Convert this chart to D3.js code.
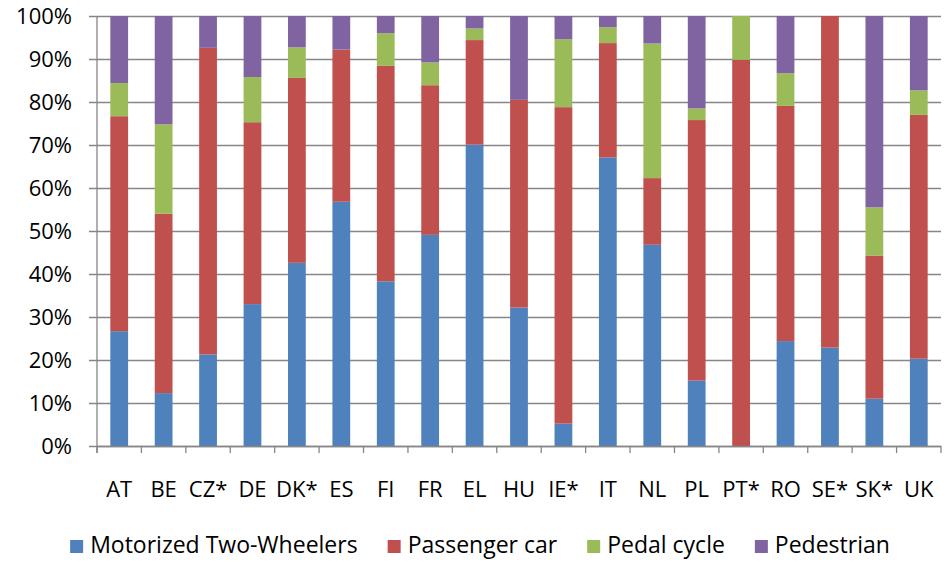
<!DOCTYPE html>
<html>
<head>
<meta charset="utf-8">
<script src="https://cdn.jsdelivr.net/npm/d3@7"></script>
<style>
  body { margin: 0; background: #fff; }
  svg text { font-family: "Open Sans", "Liberation Sans", sans-serif; fill: #000; }
</style>
</head>
<body>
<svg id="chart" width="946" height="561"></svg>
<script>
const categories = ["AT", "BE", "CZ*", "DE", "DK*", "ES", "FI", "FR", "EL", "HU", "IE*", "IT", "NL", "PL", "PT*", "RO", "SE*", "SK*", "UK"];
const motorized    = [26.7, 12.3, 21.3, 33.0, 42.6, 56.8, 38.3, 49.1, 70.1, 32.2,  5.2, 67.1, 46.8, 15.2,  0.0, 24.4, 22.9, 11.0, 20.3];
const passengerCar = [50.0, 41.7, 71.3, 42.3, 43.0, 35.4, 50.1, 34.8, 24.3, 48.3, 73.6, 26.6, 15.5, 60.6, 89.8, 54.7, 77.1, 33.3, 56.7];
const pedalCycle   = [ 7.7, 20.8,  0.0, 10.5,  7.1,  0.0,  7.6,  5.3,  2.7,  0.0, 15.8,  3.7, 31.3,  2.7, 10.2,  7.6,  0.0, 11.2,  5.7];
const pedestrian   = [15.6, 25.2,  7.4, 14.2,  7.3,  7.8,  4.0, 10.8,  2.9, 19.5,  5.4,  2.6,  6.4, 21.5,  0.0, 13.3,  0.0, 44.5, 17.3];
const seriesNames = ["Motorized Two-Wheelers", "Passenger car", "Pedal cycle", "Pedestrian"];
const yTicks = [0, 0.1, 0.2, 0.3, 0.4, 0.5, 0.6, 0.7, 0.8, 0.9, 1];

const colors = ["#4f81bd", "#c0504d", "#9bbb59", "#8064a2"];

const svg = d3.select("#chart");
const plot = { left: 97, right: 941, top: 16, bottom: 446 };
const fontSize = 22;

const rows = categories.map((c, i) => ({
  cat: c,
  [seriesNames[0]]: motorized[i],
  [seriesNames[1]]: passengerCar[i],
  [seriesNames[2]]: pedalCycle[i],
  [seriesNames[3]]: pedestrian[i]
}));

const stacked = d3.stack()
  .keys(seriesNames)
  .offset(d3.stackOffsetExpand)(rows);

const x = d3.scaleBand()
  .domain(categories)
  .range([plot.left, plot.right])
  .paddingInner(0.6)
  .paddingOuter(0.3);

const y = d3.scaleLinear()
  .domain([0, 1])
  .range([plot.bottom, plot.top]);

// gridlines + y labels
const yAxis = svg.append("g")
  .attr("transform", `translate(${plot.left - 8},0)`)
  .call(d3.axisLeft(y)
    .tickValues(yTicks)
    .tickFormat(d3.format(".0%"))
    .tickSize(-(plot.right - plot.left + 8))
    .tickPadding(17));
yAxis.select(".domain").remove();
yAxis.selectAll(".tick line").attr("stroke", "#868686").attr("stroke-width", 1.3);
yAxis.selectAll(".tick text").attr("font-size", fontSize);

// bars
svg.append("g")
  .selectAll("g")
  .data(stacked)
  .join("g")
  .attr("fill", (d, i) => colors[i])
  .selectAll("rect")
  .data(d => d)
  .join("rect")
  .attr("x", d => x(d.data.cat))
  .attr("width", x.bandwidth())
  .attr("y", d => y(d[1]))
  .attr("height", d => y(d[0]) - y(d[1]));

// y axis line
svg.append("line")
  .attr("x1", plot.left).attr("x2", plot.left)
  .attr("y1", plot.top).attr("y2", plot.bottom + 7)
  .attr("stroke", "#868686").attr("stroke-width", 1.3);

// x axis: ticks at category boundaries
const gap = (x.step() - x.bandwidth()) / 2;
const bounds = categories.map(c => x(c) - gap).concat([plot.right]);
svg.append("g")
  .selectAll("line")
  .data(bounds)
  .join("line")
  .attr("x1", d => d).attr("x2", d => d)
  .attr("y1", plot.bottom).attr("y2", plot.bottom + 7)
  .attr("stroke", "#868686").attr("stroke-width", 1.3);

const xAxis = svg.append("g")
  .attr("transform", `translate(0,${plot.bottom})`)
  .call(d3.axisBottom(x).tickSize(0).tickPadding(35));
xAxis.select(".domain")
  .attr("d", `M${plot.left},0.5H${plot.right}`)
  .attr("stroke", "#868686").attr("stroke-width", 1.3);
xAxis.selectAll(".tick text").attr("font-size", fontSize);

// legend
const legend = svg.append("g").attr("font-size", 23);
const items = legend.selectAll("g")
  .data(seriesNames)
  .join("g");
items.append("rect")
  .attr("width", 13).attr("height", 13)
  .attr("y", -6)
  .attr("fill", (d, i) => colors[i]);
items.append("text")
  .attr("x", 20)
  .attr("y", -1)
  .attr("dy", "0.35em")
  .text(d => d);

const widths = [];
items.each(function () {
  widths.push(d3.select(this).select("text").node().getComputedTextLength() + 20);
});
const legendGap = 30;
const total = d3.sum(widths) + legendGap * (widths.length - 1);
let start = 480 - total / 2;
items.attr("transform", (d, i) => {
  const t = `translate(${start},546)`;
  start += widths[i] + legendGap;
  return t;
});
</script>
</body>
</html>
